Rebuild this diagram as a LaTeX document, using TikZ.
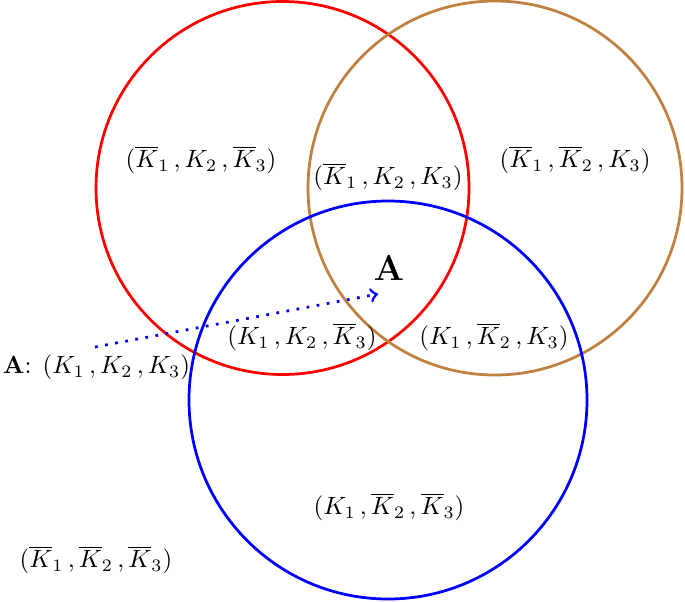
\documentclass[tikz,border=0pt]{standalone}
\usepackage{amsmath}
\usepackage{tikz}

\newcommand{\Kbar}[1]{\overline{K}_{#1}}

\begin{document}
\begin{tikzpicture}[x=0.4pt, y=-0.4pt,
set/.style={circle, line width=1.1pt, minimum size=#1, inner sep=0pt},
region/.style={inner sep=1pt}
]
\useasboundingbox (0,0) rectangle (685,601);
%Circles
\node[set=149.2pt, draw=red]    (k1)   at (282.5,188) {};
\node[set=149.6pt, draw=brown]  (k3)   at (495,188)   {};
\node[set=159.2pt, draw=blue]   (k2)   at (388,400)   {};
%Regions
\node[region]    (r010)   at (201,160)   {$(\Kbar{1}\,, K_2\,, \Kbar{3})$};
\node[region]    (r011)   at (388,177)   {$(\Kbar{1}\,, K_2\,, K_3)$};
\node[region]    (r001)   at (575,160)   {$(\Kbar{1}\,, \Kbar{2}\,, K_3)$};
\node[region]    (r110)   at (302,337)   {$(K_1\,, K_2\,, \Kbar{3})$};
\node[region]    (r101)   at (494,337)   {$(K_1\,, \Kbar{2}\,, K_3)$};
\node[region]    (r100)   at (389,507)   {$(K_1\,, \Kbar{2}\,, \Kbar{3})$};
\node[region]    (r000)   at (96,560)    {$(\Kbar{1}\,, \Kbar{2}\,, \Kbar{3})$};
\node[region]    (alabel) at (96.5,367)  {$\mathbf{A}$: $(K_1\,, K_2\,, K_3)$};
\node[region]    (abig)   at (389,268)   {\Large$\mathbf{A}$};
%Arrow
\coordinate (atail) at (95,347);
\coordinate (ahead) at (378,294);
\draw[->, blue, line width=1.1pt, dash pattern=on 1.1pt off 3pt] (atail) -- (ahead);
\end{tikzpicture}
\end{document}
